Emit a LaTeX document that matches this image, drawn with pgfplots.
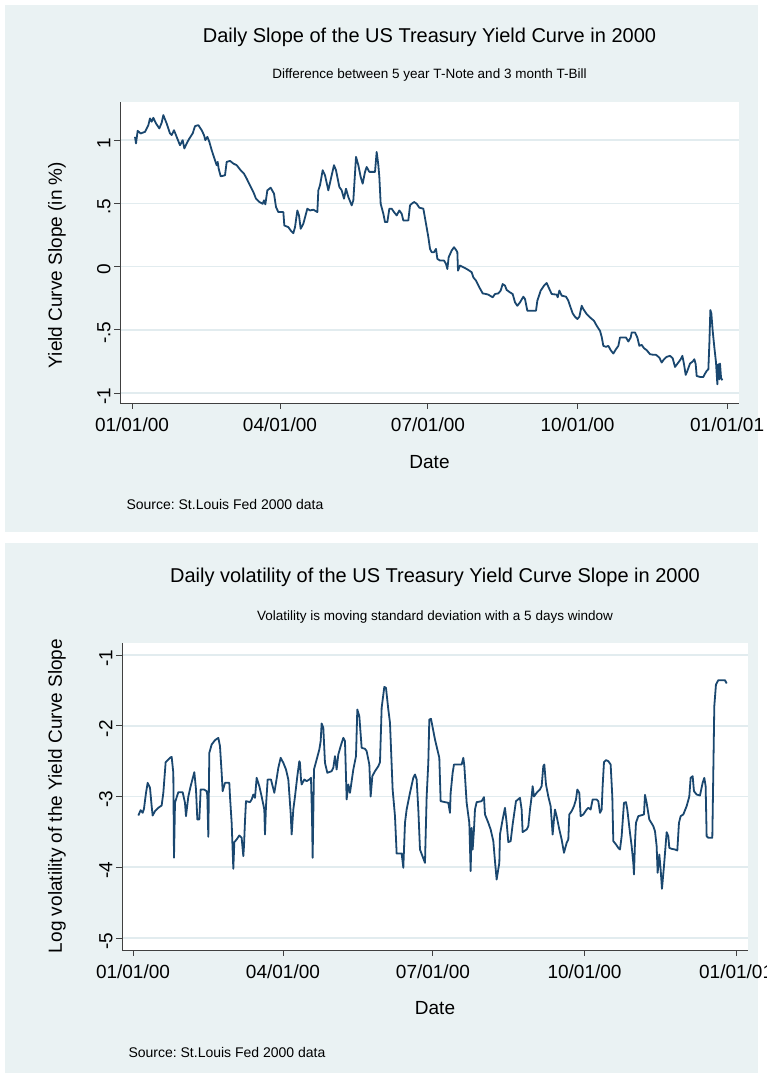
\documentclass[border=0pt]{standalone}
\usepackage{fontspec}
\setmainfont{Liberation Sans}
\usepackage{pgfplots}
\pgfplotsset{compat=1.18}
\frenchspacing

\definecolor{panel}{RGB}{234,242,243}
\definecolor{gridc}{RGB}{226,236,239}
\definecolor{navy}{RGB}{26,71,111}
\newcommand\fs[1]{\fontsize{#1}{#1}\selectfont}

\pgfplotsset{
  stata/.style={
    scale only axis,
    axis background/.style={fill=white},
    axis x line*=bottom, axis y line*=left,
    axis line style={black!75, line width=0.9pt},
    tick align=outside, major tick length=6pt,
    tick style={black!75, line width=0.9pt},
    ymajorgrids, grid style={gridc, line width=1.5pt},
    xtick={0,91,182,274,366},
    xticklabels={01/01/00,04/01/00,07/01/00,10/01/00,01/01/01},
    tick label style={font=\fs{19}},
    xticklabel style={yshift=-5pt},
    yticklabel style={rotate=90, anchor=south, xshift=-3pt},
  },
}

\begin{document}
\begin{tikzpicture}
\useasboundingbox (0pt,0pt) rectangle (767pt,1076pt);
\fill[white] (0pt,0pt) rectangle (767pt,1076pt);
\fill[panel] (5pt,544pt) rectangle (758pt,1071pt);
\fill[panel] (5pt,3pt) rectangle (758pt,533pt);

% top: slope
\begin{axis}[stata,
  at={(120pt,673pt)}, anchor=south west,
  width=619pt, height=301pt,
  xmin=-7.38, xmax=373.3, ymin=-1.079, ymax=1.302,
  ytick={-1,-0.5,0,0.5,1}, yticklabels={-1,-.5,0,.5,1},
]
\addplot[navy, line width=1.8pt, line join=round] coordinates {
(1.85,1.026) (2.46,0.974) (3.49,1.074) (5.33,1.053) (8.0,1.066) (10.05,1.119)
(11.07,1.172) (12.10,1.146) (13.12,1.177) (14.76,1.132) (16.81,1.093) (18.25,1.138)
(19.27,1.198) (21.32,1.132) (23.37,1.053) (24.40,1.040) (25.83,1.079) (27.47,1.026)
(29.52,0.960) (31.16,1.0) (32.18,0.934) (33.62,0.974) (35.26,1.013) (37.31,1.053)
(38.75,1.111) (40.80,1.119) (42.85,1.079) (44.28,1.040) (45.10,1.0) (46.33,1.026)
(47.56,0.987) (49.0,0.921) (51.05,0.841) (52.07,0.802) (52.69,0.828) (53.30,0.775)
(54.53,0.714) (57.20,0.722) (58.22,0.828) (60.27,0.836) (62.32,0.815) (64.37,0.802)
(66.83,0.762) (68.88,0.735) (70.52,0.696) (72.57,0.643) (74.62,0.590) (76.26,0.537)
(78.31,0.511) (80.36,0.497) (81.18,0.524) (82.0,0.492) (83.23,0.603) (85.28,0.624)
(87.33,0.577) (88.56,0.471) (90.0,0.431) (93.07,0.431) (93.68,0.325) (96.14,0.312)
(97.58,0.286) (99.22,0.264) (100.25,0.312) (101.68,0.444) (102.71,0.405) (103.73,0.299)
(105.37,0.339) (107.0,0.418) (107.83,0.458) (109.47,0.444) (111.52,0.450) (113.98,0.431)
(114.6,0.603) (115.62,0.643) (117.26,0.762) (118.70,0.722) (120.74,0.603) (122.80,0.722)
(124.23,0.802) (125.46,0.762) (127.51,0.630) (128.95,0.603) (130.38,0.537) (131.61,0.616)
(133.05,0.550) (135.10,0.484) (136.12,0.524) (137.76,0.868) (139.20,0.802) (140.63,0.709)
(141.86,0.656) (143.30,0.749) (144.32,0.788) (145.96,0.749) (149.45,0.749) (150.47,0.907)
(151.50,0.802) (152.11,0.709) (152.93,0.497) (154.57,0.418) (155.60,0.352) (157.03,0.352)
(158.26,0.458) (159.70,0.458) (161.13,0.431) (162.77,0.405) (164.41,0.444) (165.85,0.418)
(166.87,0.365) (169.95,0.365) (170.97,0.484) (172.00,0.497) (173.43,0.511) (175.07,0.497)
(176.71,0.466) (179.17,0.458) (180.81,0.339) (182.25,0.233) (183.27,0.140) (184.30,0.114)
(185.73,0.114) (186.96,0.140) (187.78,0.061) (189.42,0.048) (191.88,0.048) (193.11,0.021)
(193.93,-0.019) (194.75,0.074) (196.60,0.127) (198.03,0.153) (199.26,0.132) (200.08,0.114)
(200.49,-0.032) (201.72,0.008) (203.77,-0.005) (205.82,-0.019) (207.46,-0.032) (208.90,-0.045)
(209.92,-0.085) (211.56,-0.111) (213.61,-0.164) (215.66,-0.212) (217.71,-0.217) (219.15,-0.222)
(220.17,-0.230) (221.81,-0.243) (223.25,-0.217) (225.30,-0.212) (226.73,-0.190) (227.96,-0.138)
(229.40,-0.151) (230.42,-0.185) (232.47,-0.204) (234.11,-0.217) (235.55,-0.283) (236.98,-0.310)
(238.62,-0.283) (240.67,-0.238) (241.70,-0.257) (243.13,-0.349) (248.46,-0.349) (249.28,-0.270)
(251.33,-0.190) (253.38,-0.151) (255.02,-0.130) (256.66,-0.177) (258.10,-0.217) (261.17,-0.222)
(261.79,-0.243) (262.81,-0.190) (264.25,-0.230) (266.91,-0.238) (268.35,-0.270) (269.37,-0.310)
(271.01,-0.370) (272.45,-0.397) (273.88,-0.415) (275.11,-0.397) (276.55,-0.310) (277.57,-0.336)
(279.62,-0.376) (281.67,-0.402) (284.13,-0.429) (285.77,-0.468) (287.82,-0.508) (288.85,-0.556)
(289.87,-0.627) (291.51,-0.635) (292.95,-0.627) (294.38,-0.661) (296.02,-0.688) (297.66,-0.653)
(299.10,-0.627) (300.12,-0.561) (302.17,-0.561) (303.81,-0.561) (305.25,-0.593) (306.68,-0.561)
(307.30,-0.521) (309.35,-0.521) (310.78,-0.561) (312.01,-0.627) (313.45,-0.619) (314.88,-0.646)
(316.52,-0.661) (318.57,-0.693) (320.62,-0.698) (322.26,-0.698) (324.31,-0.720) (325.75,-0.759)
(327.18,-0.733) (328.82,-0.714) (330.87,-0.706) (332.51,-0.725) (333.95,-0.794) (335.99,-0.759)
(337.43,-0.733) (338.46,-0.706) (339.48,-0.772) (340.51,-0.857) (341.53,-0.825) (343.17,-0.767)
(344.81,-0.751) (345.84,-0.733) (346.66,-0.772) (347.27,-0.865) (349.32,-0.873) (351.37,-0.873)
(352.40,-0.847) (353.42,-0.825) (354.45,-0.812) (355.06,-0.614) (355.68,-0.344) (356.29,-0.370)
(357.11,-0.508) (358.14,-0.640) (359.16,-0.759) (359.98,-0.931) (360.60,-0.772) (361.21,-0.892)
(361.62,-0.767) (362.24,-0.878) (363.06,-0.899)
};
\end{axis}

\node[font=\fs{20}] at (429.5pt,1039pt) {Daily Slope of the US Treasury Yield Curve in 2000};
\node[font=\fs{13.5}] at (429.5pt,1001pt) {Difference between 5 year T-Note and 3 month T-Bill};
\node[font=\fs{19}, rotate=90] at (57pt,811pt) {Yield Curve Slope (in \%)};
\node[font=\fs{19}] at (429.5pt,614pt) {Date};
\node[font=\fs{14}, anchor=west] at (123pt,571pt) {Source: St.Louis Fed 2000 data};

% bottom: log volatility
\begin{axis}[stata,
  at={(122pt,126pt)}, anchor=south west,
  width=626pt, height=307pt,
  xmin=-6.67, xmax=373.2, ymin=-5.17, ymax=-0.83,
  ytick={-5,-4,-3,-2,-1}, yticklabels={-5,-4,-3,-2,-1},
]
\addplot[navy, line width=1.8pt, line join=round] coordinates {
(3.24,-3.269) (4.65,-3.193) (5.87,-3.231) (6.67,-3.174) (7.89,-2.948) (8.90,-2.807)
(10.32,-2.877) (11.33,-3.137) (11.93,-3.269) (13.35,-3.207) (15.37,-3.160) (17.39,-3.127)
(18.41,-2.948) (19.82,-2.515) (22.45,-2.453) (23.46,-2.439) (24.47,-2.665) (24.88,-3.867)
(25.49,-3.089) (26.09,-3.042) (27.51,-2.939) (30.14,-2.939) (31.55,-3.089) (32.16,-3.278)
(33.58,-3.0) (34.99,-2.854) (37.22,-2.656) (38.23,-2.901) (39.04,-3.325) (40.25,-3.325)
(41.06,-2.901) (43.08,-2.901) (44.70,-2.925) (45.10,-2.986) (45.71,-3.570) (46.32,-2.383)
(47.74,-2.265) (49.76,-2.204) (51.78,-2.171) (52.79,-2.289) (53.80,-2.665) (54.41,-2.925)
(55.83,-2.807) (58.45,-2.807) (58.86,-3.0) (59.87,-3.372) (60.88,-4.022) (61.49,-3.645)
(62.90,-3.608) (64.52,-3.551) (65.94,-3.584) (66.95,-3.843) (67.35,-3.702) (67.96,-3.349)
(68.57,-3.066) (71.0,-3.080) (72.01,-3.042) (73.02,-2.972) (74.03,-3.019) (75.04,-2.736)
(76.66,-2.854) (78.07,-3.0) (79.69,-3.184) (80.10,-3.537) (80.70,-3.137) (81.72,-2.760)
(83.74,-2.760) (84.75,-2.854) (85.76,-2.948) (86.77,-2.807) (88.19,-2.595) (89.6,-2.453)
(91.22,-2.524) (92.84,-2.618) (94.26,-2.760) (95.67,-3.231) (96.28,-3.537) (97.29,-3.184)
(98.30,-3.0) (99.72,-2.713) (100.93,-2.501) (101.33,-2.524) (101.94,-2.760) (102.35,-2.830)
(103.96,-2.760) (105.38,-2.783) (107.0,-2.760) (108.01,-2.736) (108.62,-3.278) (109.02,-3.867)
(109.43,-3.231) (109.83,-2.618) (111.45,-2.477) (113.07,-2.336) (113.88,-2.218) (114.48,-1.968)
(115.49,-2.029) (116.5,-2.524) (117.92,-2.665) (120.55,-2.642) (121.56,-2.595) (122.57,-2.430)
(123.58,-2.618) (124.59,-2.406) (126.01,-2.289) (127.63,-2.171) (128.64,-2.218) (129.65,-3.042)
(130.66,-2.830) (131.67,-2.948) (133.7,-2.618) (135.32,-2.430) (136.12,-1.770) (137.34,-1.865)
(138.76,-2.312) (140.78,-2.326) (141.79,-2.359) (143.41,-2.548) (144.22,-3.0) (145.23,-2.713)
(146.84,-2.642) (148.87,-2.571) (149.88,-2.515) (150.89,-1.747) (152.51,-1.450) (153.52,-1.464)
(154.93,-1.770) (155.95,-1.959) (157.56,-2.901) (158.98,-3.278) (159.99,-3.806) (163.03,-3.806)
(164.04,-4.008) (165.05,-3.372) (166.06,-3.184) (168.08,-2.948) (170.1,-2.736) (171.12,-2.689)
(172.13,-2.760) (173.14,-3.184) (174.15,-3.749) (177.18,-3.938) (178.2,-3.0) (179.2,-2.524)
(179.81,-1.912) (180.83,-1.902) (183.25,-2.194) (185.88,-2.453) (186.69,-3.066) (189.32,-3.080)
(191.34,-3.089) (192.35,-3.231) (192.76,-2.948) (193.97,-2.665) (194.78,-2.548) (197.41,-2.548)
(199.43,-2.548) (200.44,-2.453) (201.05,-2.562) (202.47,-3.089) (204.08,-3.372) (204.89,-4.055)
(205.5,-3.443) (206.11,-3.749) (206.92,-3.466) (207.52,-3.184) (208.54,-3.080) (211.57,-3.066)
(212.99,-3.009) (213.59,-3.254) (215.61,-3.372) (217.03,-3.466) (218.65,-3.631) (219.66,-3.914)
(220.67,-4.173) (222.29,-3.938) (222.69,-3.537) (224.31,-3.325) (225.73,-3.160) (226.74,-3.372)
(227.75,-3.645) (229.17,-3.631) (230.38,-3.396) (232.4,-3.066) (234.83,-3.019) (235.84,-3.184)
(236.45,-3.504) (238.88,-3.466) (239.89,-3.419) (240.9,-3.184) (241.91,-3.0) (242.52,-2.854)
(243.33,-3.0) (244.94,-2.948) (246.97,-2.901) (247.98,-2.854) (248.99,-2.571) (249.6,-2.548)
(250.61,-2.830) (252.02,-3.0) (253.44,-3.137) (254.65,-3.537) (255.46,-3.325) (256.07,-3.184)
(257.08,-3.278) (258.7,-3.466) (260.11,-3.608) (261.53,-3.796) (263.15,-3.655) (264.16,-3.608)
(264.76,-3.254) (266.18,-3.207) (267.6,-3.137) (268.81,-3.042) (269.62,-2.901) (270.83,-2.948)
(271.64,-3.278) (273.26,-3.254) (275.29,-3.184) (276.29,-3.160) (277.71,-3.184) (278.93,-3.042)
(281.35,-3.042) (282.36,-3.066) (283.37,-3.231) (284.39,-3.184) (284.99,-2.854) (285.8,-2.515)
(287.01,-2.486) (288.43,-2.501) (289.85,-2.548) (290.86,-3.0) (291.46,-3.631) (293.08,-3.678)
(294.5,-3.726) (295.51,-3.749) (296.52,-3.561) (297.94,-3.089) (299.15,-3.080) (299.96,-3.184)
(301.58,-3.514) (302.59,-3.702) (303.6,-3.938) (304.0,-4.102) (304.61,-3.655) (305.22,-3.372)
(306.63,-3.278) (308.66,-3.264) (310.07,-3.254) (310.68,-2.976) (311.69,-3.089) (313.31,-3.325)
(315.73,-3.419) (316.75,-3.490) (317.76,-3.702) (318.37,-4.079) (319.38,-3.820) (320.19,-4.032)
(320.99,-4.305) (322.21,-3.985) (323.83,-3.504) (324.84,-3.561) (325.44,-3.726) (326.86,-3.740)
(328.88,-3.749) (330.3,-3.763) (331.31,-3.372) (332.32,-3.278) (333.94,-3.254) (335.96,-3.137)
(337.58,-3.0) (338.39,-2.736) (339.61,-2.713) (340.41,-2.925) (342.03,-2.972) (344.05,-2.986)
(345.67,-2.807) (346.68,-2.736) (347.49,-2.854) (348.1,-3.561) (349.11,-3.584) (351.54,-3.584)
(352.14,-2.665) (352.75,-1.723) (353.76,-1.417) (355.18,-1.356) (359.22,-1.356) (360.24,-1.403)
};
\end{axis}

\node[font=\fs{20}] at (435pt,499pt) {Daily volatility of the US Treasury Yield Curve Slope in 2000};
\node[font=\fs{13.5}] at (435pt,459pt) {Volatility is moving standard deviation with a 5 days window};
\node[font=\fs{19}, rotate=90] at (57pt,280pt) {Log volatility of the Yield Curve Slope};
\node[font=\fs{19}] at (435pt,68pt) {Date};
\node[font=\fs{14}, anchor=west] at (125pt,24pt) {Source: St.Louis Fed 2000 data};
\end{tikzpicture}
\end{document}
